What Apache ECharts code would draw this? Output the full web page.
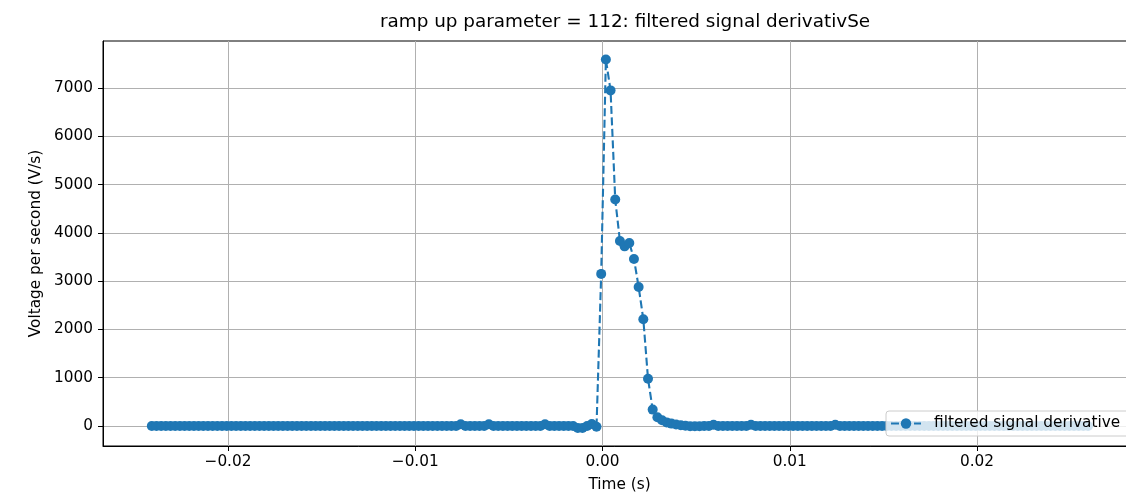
<!DOCTYPE html>
<html>
<head>
<meta charset="utf-8">
<script src="https://cdn.jsdelivr.net/npm/echarts@6/dist/echarts.min.js"></script>
<style>
html,body{margin:0;padding:0;background:#fff;}
#chart{width:1126px;height:498px;}
</style>
</head>
<body>
<div id="chart"></div>
<script>
// Time (s)
const times = [
-0.02407,-0.02382,-0.02357,-0.02332,
-0.02307,-0.02282,-0.02257,-0.02232,
-0.02207,-0.02182,-0.02157,-0.02132,
-0.02107,-0.02082,-0.02057,-0.02032,
-0.02007,-0.01982,-0.01957,-0.01932,
-0.01907,-0.01882,-0.01857,-0.01832,
-0.01807,-0.01782,-0.01757,-0.01732,
-0.01707,-0.01682,-0.01657,-0.01632,
-0.01607,-0.01582,-0.01557,-0.01532,
-0.01507,-0.01482,-0.01457,-0.01432,
-0.01407,-0.01382,-0.01357,-0.01332,
-0.01307,-0.01282,-0.01257,-0.01232,
-0.01207,-0.01182,-0.01157,-0.01132,
-0.01107,-0.01082,-0.01057,-0.01032,
-0.01007,-0.00982,-0.00957,-0.00932,
-0.00907,-0.00882,-0.00857,-0.00832,
-0.00807,-0.00782,-0.00757,-0.00732,
-0.00707,-0.00682,-0.00657,-0.00632,
-0.00607,-0.00582,-0.00557,-0.00532,
-0.00507,-0.00482,-0.00457,-0.00432,
-0.00407,-0.00382,-0.00357,-0.00332,
-0.00307,-0.00282,-0.00257,-0.00232,
-0.00207,-0.00182,-0.00157,-0.00132,
-0.00107,-0.00082,-0.00057,-0.00032,
-0.00007,
0.00018,0.00043,0.00068,0.00093,
0.00118,0.00143,0.00168,0.00193,
0.00218,0.00243,0.00268,0.00293,
0.00318,0.00343,0.00368,0.00393,
0.00418,0.00443,0.00468,0.00493,
0.00518,0.00543,0.00568,0.00593,
0.00618,0.00643,0.00668,0.00693,
0.00718,0.00743,0.00768,0.00793,
0.00818,0.00843,0.00868,0.00893,
0.00918,0.00943,0.00968,0.00993,
0.01018,0.01043,0.01068,0.01093,
0.01118,0.01143,0.01168,0.01193,
0.01218,0.01243,0.01268,0.01293,
0.01318,0.01343,0.01368,0.01393,
0.01418,0.01443,0.01468,0.01493,
0.01518,0.01543,0.01568,0.01593,
0.01618,0.01643,0.01668,0.01693,
0.01718,0.01743,0.01768,0.01793,
0.01818,0.01843,0.01868,0.01893,
0.01918,0.01943,0.01968,0.01993,
0.02018,0.02043,0.02068,0.02093,
0.02118,0.02143,0.02168,0.02193,
0.02218,0.02243,0.02268,0.02293,
0.02318,0.02343,0.02368,0.02393,
0.02418,0.02443,0.02468,0.02493,
0.02518,0.02543,0.02568,0.02593
];
// Voltage per second (V/s)
const derivative = [
0,0,0,0,0,0,0,0,0,0,
0,0,0,0,0,0,0,0,0,0,
0,0,0,0,0,0,0,0,0,0,
0,0,0,0,0,0,0,0,0,0,
0,0,0,0,0,0,0,0,0,0,
0,0,0,0,0,0,0,0,0,0,
0,0,0,0,0,0,35,0,0,0,
0,0,35,0,0,0,0,0,0,0,
0,0,0,0,35,0,0,0,0,0,
0,-40,-40,0,40,-15,3150,7590,6950,4690,
3830,3720,3790,3460,2880,2210,980,340,180,120,
75,50,30,15,5,-5,-5,-5,0,0,
25,0,0,0,0,0,0,0,25,0,
0,0,0,0,0,0,0,0,0,0,
0,0,0,0,0,0,25,0,0,0,
0,0,0,0,0,0,0,0,0,0,
0,0,0,0,0,0,0,0,0,0,
0,0,0,0,0,0,0,0,0,0,
0,0,0,0,0,0,0,0,0,0,
0,0,0,0,0,0,0,0,0,0,
0
];
const xTicks = [-0.02, -0.01, 0, 0.01, 0.02];
const yTicks = [0, 1000, 2000, 3000, 4000, 5000, 6000, 7000];
const seriesName = 'filtered signal derivative';
const titleText = 'ramp up parameter = 112: filtered signal derivativSe';

const FONT = 'DejaVu Sans';
const C0 = '#1f77b4';
const FS = 15.3;
const chart = echarts.init(document.getElementById('chart'), null, {renderer: 'canvas'});
const pts = times.map((t, i) => [t, derivative[i]]);

chart.setOption({
  animation: false,
  backgroundColor: '#fff',
  title: {
    text: titleText,
    left: 620, top: 8, textAlign: 'center',
    textStyle: {fontFamily: FONT, fontSize: 18.4, fontWeight: 'normal', color: '#000'}
  },
  grid: {left: 103, top: 41, width: 1033, height: 405, show: true, borderColor: '#000', borderWidth: 1,
    backgroundColor: 'transparent', containLabel: false, outerBoundsMode: 'none'},
  legend: {
    data: [seriesName],
    left: 886, top: 411,
    orient: 'horizontal',
    backgroundColor: 'rgba(255,255,255,0.8)',
    borderColor: '#cccccc', borderWidth: 1, borderRadius: 3,
    padding: [5, 10, 5, 4],
    itemWidth: 30, itemHeight: 13,
    textStyle: {fontFamily: FONT, fontSize: FS, color: '#000', padding: [0, 0, 0, 8]}
  },
  xAxis: {
    type: 'value',
    min: -0.026676, max: 0.028491,
    name: 'Time (s)', nameLocation: 'middle', nameGap: 32,
    nameTextStyle: {fontFamily: FONT, fontSize: FS, color: '#000'},
    axisLine: {show: true, onZero: false, lineStyle: {color: '#000', width: 1}},
    axisTick: {show: true, length: 5, lineStyle: {color: '#000', width: 1}, customValues: xTicks},
    axisLabel: {fontFamily: FONT, fontSize: FS, color: '#000', margin: 9, customValues: xTicks,
      formatter: v => v.toFixed(2).replace('-', '\u2212')},
    splitLine: {show: true, lineStyle: {color: '#b0b0b0', width: 1}}
  },
  yAxis: {
    type: 'value',
    min: -414, max: 7973,
    name: 'Voltage per second (V/s)', nameLocation: 'middle', nameGap: 57,
    nameTextStyle: {fontFamily: FONT, fontSize: FS, color: '#000'},
    axisLine: {show: true, onZero: false, lineStyle: {color: '#000', width: 1}},
    axisTick: {show: true, length: 5, lineStyle: {color: '#000', width: 1}, customValues: yTicks},
    axisLabel: {fontFamily: FONT, fontSize: FS, color: '#000', margin: 10, customValues: yTicks,
      formatter: v => String(Math.round(v))},
    splitLine: {show: true, lineStyle: {color: '#b0b0b0', width: 1}}
  },
  series: [{
    name: seriesName,
    type: 'line',
    data: pts,
    showSymbol: true,
    showAllSymbol: true,
    symbol: 'circle',
    symbolSize: 10,
    itemStyle: {color: C0},
    lineStyle: {color: C0, width: 2.1, type: [8, 3.5]},
    emphasis: {disabled: true},
    z: 3
  }]
});
</script>
</body>
</html>
